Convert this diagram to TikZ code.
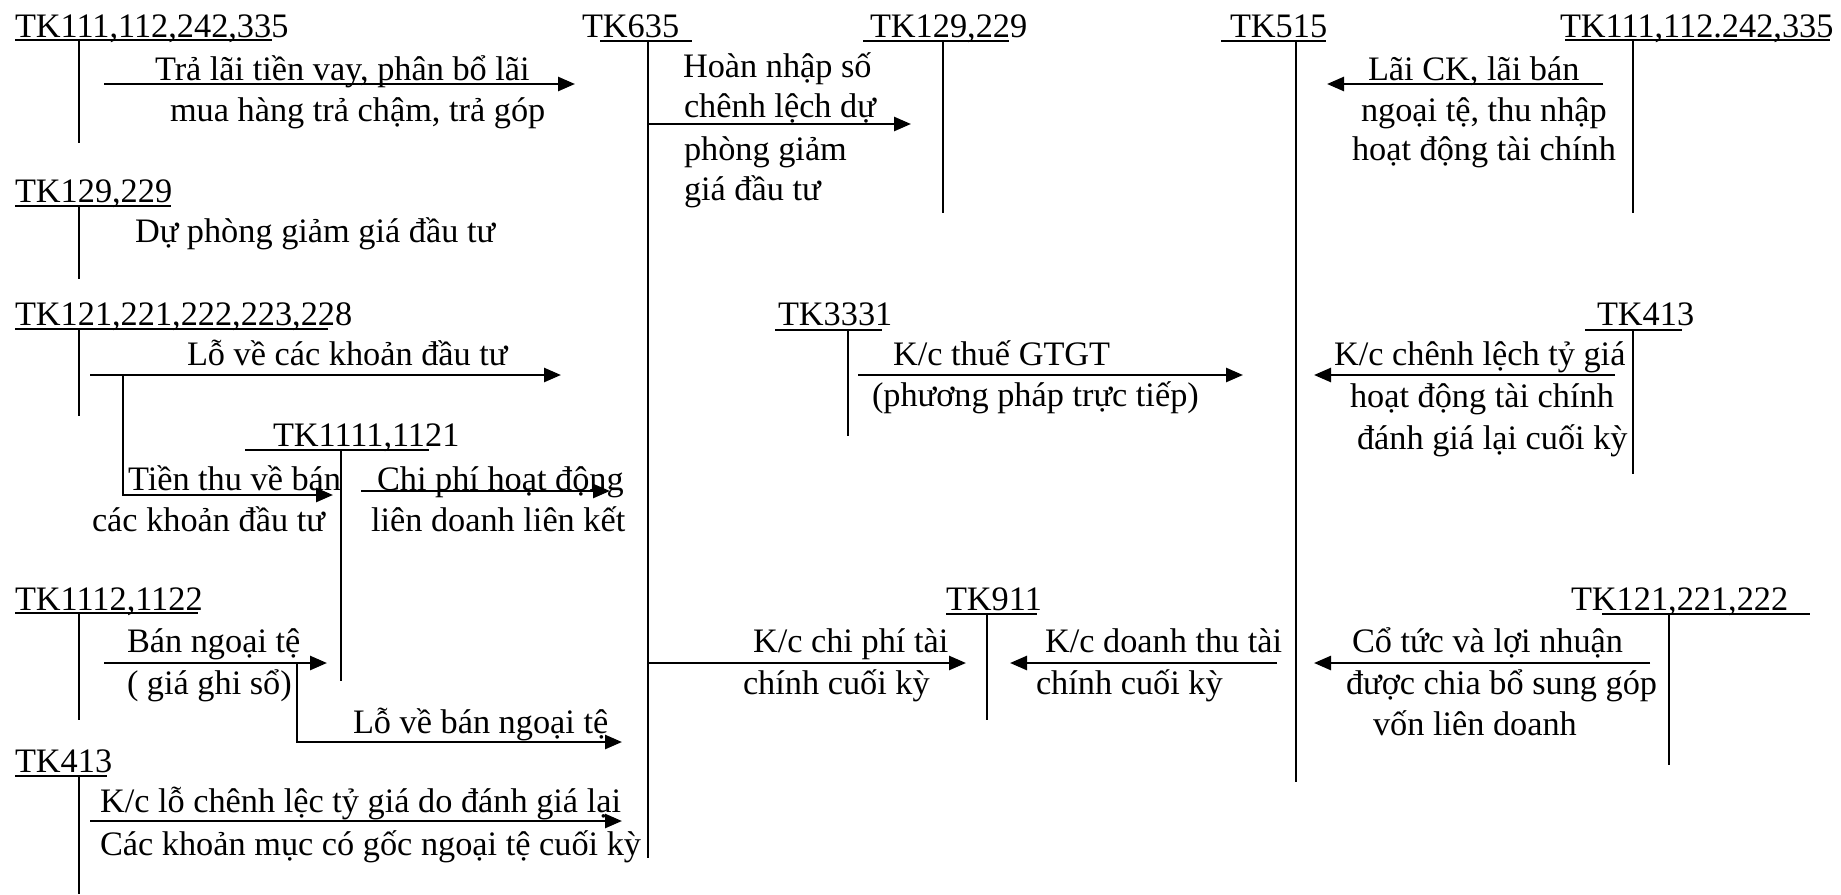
\documentclass[tikz,border=0pt]{standalone}
\usepackage{fontspec}
\setmainfont{Liberation Serif}
\usetikzlibrary{arrows.meta}
\tikzset{
  lbl/.style={inner sep=0pt, outer sep=0pt, anchor=base west, font=\fontsize{34.3}{41}\selectfont},
  tline/.style={line width=2pt},
  arr/.style={line width=2.6pt, -{Triangle[length=17pt,width=14pt]}},
  conn/.style={line width=2.6pt},
}
% T-account: name, text x, baseline y, text, underline x1, x2, underline y, stem x, stem bottom y
\newcommand\Tacct[9]{%
  \node[lbl] (#1) at (#2,#3) {#4};
  \coordinate (#1-ul) at (#5,#7); \coordinate (#1-ur) at (#6,#7);
  \coordinate (#1-top) at (#8,#7); \coordinate (#1-bot) at (#8,#9);
  \draw[tline] (#1-ul) -- (#1-ur);
  \draw[tline] (#1-top) -- (#1-bot);
}
% Flow arrow: name, x from, x to, y
\newcommand\Flow[4]{%
  \coordinate (#1-s) at (#2,#4); \coordinate (#1-e) at (#3,#4);
  \draw[arr] (#1-s) -- (#1-e);
}
\begin{document}
\begin{tikzpicture}[x=1pt,y=-1pt]
\useasboundingbox (0,0) rectangle (1841,894);

% ---- T accounts ----
\Tacct{A1}{15}{37}{TK111,112,242,335}{15}{272}{40}{79}{143}
\Tacct{A2}{15}{202}{TK129,229}{15}{171}{206}{79}{279}
\Tacct{A3}{15}{325}{TK121,221,222,223,228}{15}{328}{329}{79}{416}
\Tacct{A4}{273}{446}{TK1111,1121}{245}{429}{450}{341}{681}
\Tacct{A5}{15}{610}{TK1112,1122}{15}{198}{613}{79}{720}
\Tacct{A6}{15}{772}{TK413}{15}{107}{776}{79}{894}
\Tacct{B1}{582}{37}{TK635}{600}{692}{41}{648}{858}
\Tacct{B2}{870}{37}{TK129,229}{863}{1009}{41}{943}{213}
\Tacct{B3}{778}{325}{TK3331}{775}{882}{330}{848}{436}
\Tacct{B4}{946}{610}{TK911}{946}{1037}{614}{987}{720}
\Tacct{C1}{1230}{37}{TK515}{1221}{1326}{41}{1296}{782}
\Tacct{D1}{1560}{37}{TK111,112.242,335}{1565}{1830}{40}{1633}{213}
\Tacct{D2}{1597}{325}{TK413}{1585}{1682}{330}{1633}{474}
\Tacct{D3}{1571}{610}{TK121,221,222}{1602}{1810}{614}{1669}{765}

% ---- flows, left column ----
\Flow{f1}{104}{575}{84}
\node[lbl] (t1a) at (155,80) {Trả lãi tiền vay, phân bổ lãi};
\node[lbl] (t1b) at (170,121) {mua hàng trả chậm, trả góp};

\node[lbl] (t2) at (135,242) {Dự phòng giảm giá đầu tư};

\Flow{f3}{90}{561}{375}
\node[lbl] (t3) at (187,365) {Lỗ về các khoản đầu tư};

\coordinate (f4-s) at (123,375);
\coordinate (f4-c) at (123,495);
\coordinate (f4-e) at (333,495);
\draw[arr] (f4-s) -- (f4-c) -- (f4-e);
\node[lbl] (t4a) at (128,490) {Tiền thu về bán};
\node[lbl] (t4b) at (92,531) {các khoản đầu tư};

\Flow{f5}{361}{610}{491}
\node[lbl] (t5a) at (377,490) {Chi phí hoạt động};
\node[lbl] (t5b) at (371,531) {liên doanh liên kết};

\Flow{f6}{104}{327}{663}
\node[lbl] (t6a) at (127,652) {Bán ngoại tệ};
\node[lbl] (t6b) at (127,694) {( giá ghi sổ)};

\coordinate (f7-s) at (297,663);
\coordinate (f7-c) at (297,742);
\coordinate (f7-e) at (622,742);
\draw[arr] (f7-s) -- (f7-c) -- (f7-e);
\node[lbl] (t7) at (353,733) {Lỗ về bán ngoại tệ};

\Flow{f8}{90}{622}{821}
\node[lbl] (t8a) at (100,812) {K/c lỗ chênh lệc tỷ giá do đánh giá lại};
\node[lbl] (t8b) at (100,855) {Các khoản mục có gốc ngoại tệ cuối kỳ};

% ---- flows, middle ----
\Flow{f9}{648}{911}{124}
\node[lbl] (t9a) at (683,77) {Hoàn nhập số};
\node[lbl] (t9b) at (684,117) {chênh lệch dự};
\node[lbl] (t9c) at (684,160) {phòng giảm};
\node[lbl] (t9d) at (684,200) {giá đầu tư};

\Flow{f10}{858}{1243}{375}
\node[lbl] (t10a) at (893,365) {K/c thuế GTGT};
\node[lbl] (t10b) at (872,406) {(phương pháp trực tiếp)};

\Flow{f11}{648}{966}{663}
\node[lbl] (t11a) at (753,652) {K/c chi phí tài};
\node[lbl] (t11b) at (743,694) {chính cuối kỳ};

\Flow{f12}{1277}{1010}{663}
\node[lbl] (t12a) at (1045,652) {K/c doanh thu tài};
\node[lbl] (t12b) at (1036,694) {chính cuối kỳ};

% ---- flows, right column ----
\Flow{f13}{1603}{1327}{84}
\node[lbl] (t13a) at (1368,80) {Lãi CK, lãi bán};
\node[lbl] (t13b) at (1361,121) {ngoại tệ, thu nhập};
\node[lbl] (t13c) at (1352,160) {hoạt động tài chính};

\Flow{f14}{1615}{1314}{375}
\node[lbl] (t14a) at (1334,365) {K/c chênh lệch tỷ giá};
\node[lbl] (t14b) at (1350,407) {hoạt động tài chính};
\node[lbl] (t14c) at (1357,449) {đánh giá lại cuối kỳ};

\Flow{f15}{1650}{1314}{663}
\node[lbl] (t15a) at (1352,652) {Cổ tức và lợi nhuận};
\node[lbl] (t15b) at (1346,694) {được chia bổ sung góp};
\node[lbl] (t15c) at (1373,735) {vốn liên doanh};
\end{tikzpicture}
\end{document}
